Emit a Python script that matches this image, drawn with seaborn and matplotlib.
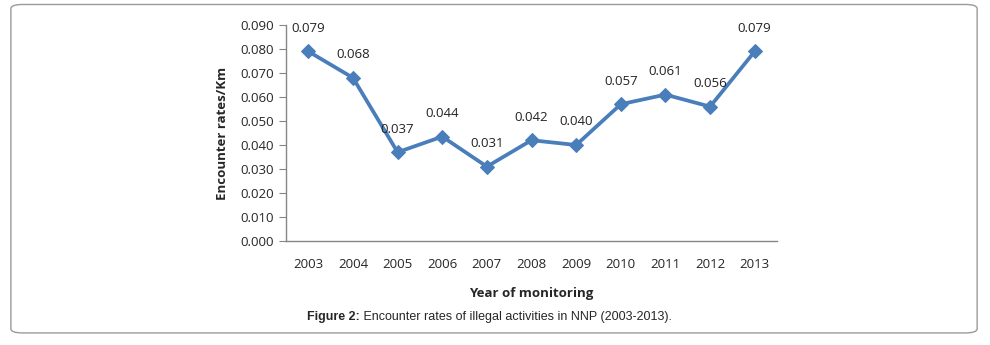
import pandas as pd
import matplotlib.pyplot as plt
import seaborn as sns
from matplotlib.patches import FancyBboxPatch

# Datos del gráfico
years = ['2003', '2004', '2005', '2006', '2007', '2008', '2009', '2010', '2011', '2012', '2013']
rates = [0.079, 0.068, 0.037, 0.0435, 0.031, 0.042, 0.040, 0.057, 0.061, 0.056, 0.079]
rate_labels = ['0.079', '0.068', '0.037', '0.044', '0.031', '0.042', '0.040', '0.057', '0.061', '0.056', '0.079']
y_ticks = [0.000, 0.010, 0.020, 0.030, 0.040, 0.050, 0.060, 0.070, 0.080, 0.090]

df = pd.DataFrame({'year': years, 'rate': rates})

sns.set_style('white')
plt.rcParams['font.family'] = ['Open Sans', 'DejaVu Sans']

fig = plt.figure(figsize=(9.9, 3.45), dpi=100)
ax = fig.add_axes([0.2889, 0.3014, 0.4960, 0.6261])

blue = '#4A7EBB'
sns.lineplot(data=df, x='year', y='rate', ax=ax, color=blue, linewidth=2.7,
             marker='D', markersize=7, markeredgecolor=blue, sort=False)

for i, (v, lab) in enumerate(zip(rates, rate_labels)):
    ax.annotate(lab, (i, v), xytext=(0, 12), textcoords='offset points',
                ha='center', va='bottom', fontsize=9.5, color='#222222')

ax.set_xlim(-0.5, len(years) - 0.5)
ax.set_ylim(0, 0.09)
ax.set_yticks(y_ticks)
ax.set_yticklabels([f'{t:.3f}' for t in y_ticks], fontsize=9.5)
ax.set_xticks(range(len(years)))
ax.set_xticklabels(years, fontsize=9.5)
ax.set_xticks([i - 0.5 for i in range(len(years) + 1)], minor=True)
ax.tick_params(axis='x', which='major', length=0, pad=12)
ax.tick_params(axis='x', which='minor', length=5, color='#868686', direction='out')
ax.tick_params(axis='y', length=5, color='#868686', direction='out', left=True, pad=4)

for s in ['top', 'right']:
    ax.spines[s].set_visible(False)
for s in ['left', 'bottom']:
    ax.spines[s].set_color('#868686')
    ax.spines[s].set_linewidth(1)

ax.set_xlabel('Year of monitoring', fontsize=9.5, fontweight='bold', labelpad=12)
ax.set_ylabel('Encounter rates/Km', fontsize=9.5, fontweight='bold', labelpad=8)

# Pie de figura
fig.text(0.3635, 0.08, 'Figure 2:', ha='right', va='center', fontsize=9,
         fontweight='bold', family=['Liberation Sans'])
fig.text(0.3635, 0.08, ' Encounter rates of illegal activities in NNP (2003-2013).',
         ha='left', va='center', fontsize=9, family=['Liberation Sans'])

# Marco redondeado
box = FancyBboxPatch((0.011, 0.035), 0.976, 0.952, boxstyle='round,pad=0,rounding_size=0.012',
                     transform=fig.transFigure, fill=False, edgecolor='#9a9a9a', linewidth=1)
fig.patches.append(box)

fig.savefig('out.png', dpi=100)
